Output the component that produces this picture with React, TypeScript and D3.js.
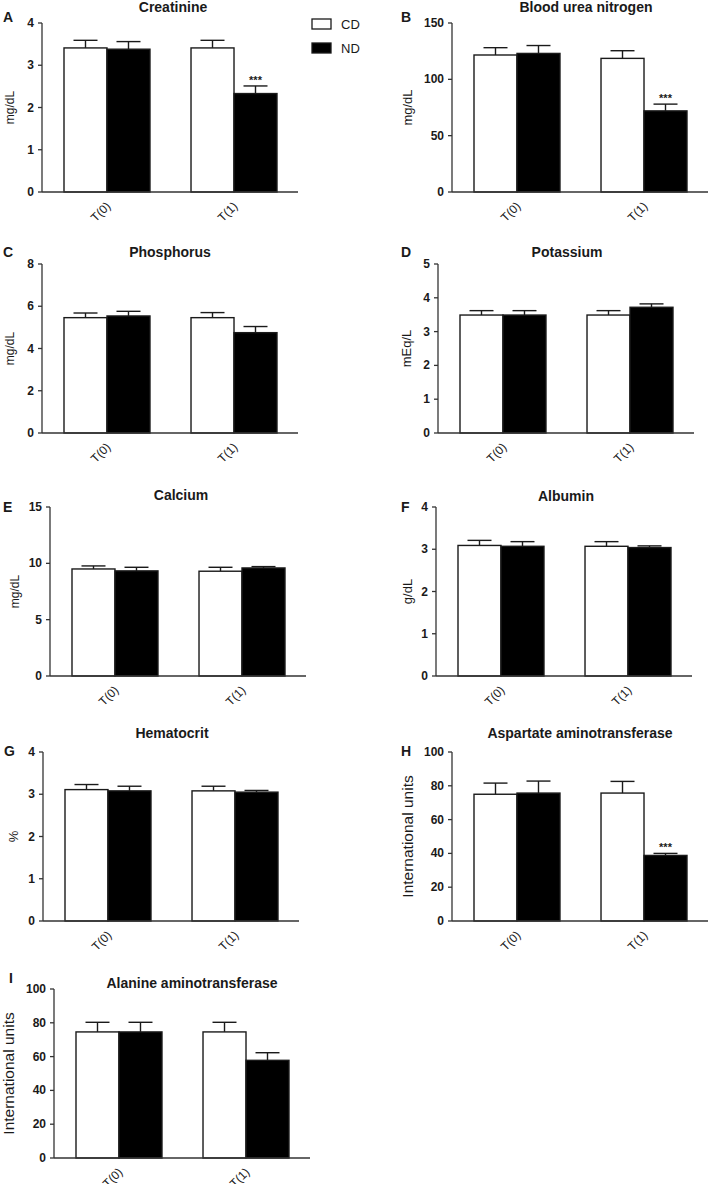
import React from "react";
import * as d3 from "d3";

// ---------- data ----------
const groups = ["T(0)", "T(1)"];
const seriesNames = ["CD", "ND"];
const letters = ["A", "B", "C", "D", "E", "F", "G", "H", "I"];
const titles = [
  "Creatinine",
  "Blood urea nitrogen",
  "Phosphorus",
  "Potassium",
  "Calcium",
  "Albumin",
  "Hematocrit",
  "Aspartate aminotransferase",
  "Alanine aminotransferase",
];
const yLabels = ["mg/dL", "mg/dL", "mg/dL", "mEq/L", "mg/dL", "g/dL", "%", "International units", "International units"];
const yMax = [4, 150, 8, 5, 15, 4, 4, 100, 100];
const yStep = [1, 50, 2, 1, 5, 1, 1, 20, 20];

const cdMean = [
  [3.41, 3.41],
  [121.6, 118.6],
  [5.46, 5.46],
  [3.49, 3.49],
  [9.5, 9.3],
  [3.09, 3.07],
  [3.11, 3.08],
  [75, 75.7],
  [74.6, 74.6],
];
const cdSem = [
  [0.18, 0.18],
  [6.5, 6.8],
  [0.22, 0.24],
  [0.13, 0.13],
  [0.27, 0.35],
  [0.12, 0.11],
  [0.12, 0.11],
  [6.6, 6.9],
  [5.7, 5.7],
];
const ndMean = [
  [3.38, 2.33],
  [123, 72],
  [5.54, 4.75],
  [3.49, 3.72],
  [9.33, 9.59],
  [3.07, 3.04],
  [3.08, 3.05],
  [75.7, 38.8],
  [74.6, 57.8],
];
const ndSem = [
  [0.18, 0.18],
  [7, 6],
  [0.22, 0.29],
  [0.13, 0.1],
  [0.32, 0.12],
  [0.11, 0.04],
  [0.11, 0.04],
  [7.1, 1.2],
  [5.7, 4.5],
];
const ndSig = [
  ["", "***"],
  ["", "***"],
  ["", ""],
  ["", ""],
  ["", ""],
  ["", ""],
  ["", ""],
  ["", "***"],
  ["", ""],
];

// ---------- layout (positions only) ----------
const axisX = [42, 452, 42, 438, 50, 436, 43, 452, 54];
const topY = [23, 23, 264, 264, 507, 507, 752, 752, 989];
const titleX = [173, 586, 170, 567, 181, 566, 172, 580, 192];
const titleY = [12, 12, 257, 257, 500, 501, 738, 738, 988];
const letterX = [3, 401, 3, 401, 3, 401, 4, 401, 9];
const letterY = [22, 22, 257, 257, 512, 512, 756, 756, 983];
const ylabX = [10, 407, 10, 406, 15, 407, 13, 407, 8];
const ylabSize = [12, 13, 12, 13, 12, 13, 13, 15.5, 15.5];

const PLOT_H = 169;
const PLOT_W = 256;
const FONT = "'Liberation Sans', Arial, Helvetica, sans-serif";
const INK = "#1a1a1a";

function Panel({ i }: { i: number }) {
  const x0 = axisX[i];
  const y0 = topY[i];
  const zero = y0 + PLOT_H;
  const y = d3.scaleLinear().domain([0, yMax[i]]).range([zero, y0]);
  const gx = d3
    .scaleBand<string>()
    .domain(groups)
    .range([x0 + 22, x0 + 235])
    .paddingInner(0.323)
    .paddingOuter(0);
  const sx = d3.scaleBand<string>().domain(seriesNames).range([0, gx.bandwidth()]);
  const ticks = d3.range(0, yMax[i] + yStep[i] / 2, yStep[i]);
  const bw = sx.bandwidth();
  const cap = 12;

  const bars: React.ReactNode[] = [];
  groups.forEach((g, gi) => {
    seriesNames.forEach((s, si) => {
      const m = si === 0 ? cdMean[i][gi] : ndMean[i][gi];
      const e = si === 0 ? cdSem[i][gi] : ndSem[i][gi];
      const bx = (gx(g) as number) + (sx(s) as number);
      const cx = bx + bw / 2;
      const yt = y(m);
      const ye = y(m + e);
      bars.push(
        <g key={g + s}>
          <line x1={cx} x2={cx} y1={yt} y2={ye} stroke={INK} strokeWidth={1.4} />
          <line x1={cx - cap} x2={cx + cap} y1={ye} y2={ye} stroke={INK} strokeWidth={1.4} />
          <rect
            x={bx}
            y={yt}
            width={bw}
            height={zero - yt}
            fill={si === 0 ? "#ffffff" : "#000000"}
            stroke={INK}
            strokeWidth={1.4}
          />
          {si === 1 && ndSig[i][gi] ? (
            <text x={cx} y={ye - 2} textAnchor="middle" fontSize={11} fontWeight="bold" fontFamily={FONT} fill={INK}>
              {ndSig[i][gi]}
            </text>
          ) : null}
        </g>
      );
    });
  });

  return (
    <g>
      <text x={titleX[i]} y={titleY[i]} textAnchor="middle" fontSize={14} fontWeight="bold" fontFamily={FONT} fill={INK}>
        {titles[i]}
      </text>
      <text x={letterX[i]} y={letterY[i]} fontSize={14} fontWeight="bold" fontFamily={FONT} fill={INK}>
        {letters[i]}
      </text>
      <text
        transform={`translate(${ylabX[i]},${y0 + PLOT_H / 2}) rotate(-90)`}
        textAnchor="middle"
        dominantBaseline="central"
        fontSize={ylabSize[i]}
        fontFamily={FONT}
        fill={INK}
      >
        {yLabels[i]}
      </text>
      {bars}
      {/* y axis */}
      <line x1={x0} x2={x0} y1={y0} y2={zero} stroke="#333" strokeWidth={1.3} />
      {ticks.map((t) => (
        <g key={t}>
          <line x1={x0 - 4} x2={x0} y1={y(t)} y2={y(t)} stroke="#333" strokeWidth={1.3} />
          <text
            x={x0 - 8}
            y={y(t)}
            textAnchor="end"
            dominantBaseline="central"
            fontSize={12}
            fontWeight="bold"
            fontFamily={FONT}
            fill={INK}
          >
            {t}
          </text>
        </g>
      ))}
      {/* x axis */}
      <line x1={x0} x2={x0 + PLOT_W} y1={zero} y2={zero} stroke="#333" strokeWidth={1.3} />
      {groups.map((g) => {
        const cx = (gx(g) as number) + gx.bandwidth() / 2;
        return (
          <text
            key={g}
            transform={`translate(${cx + 1.5},${zero + 12}) rotate(-45)`}
            textAnchor="end"
            dominantBaseline="central"
            fontSize={12}
            fontFamily={FONT}
            fill={INK}
          >
            {g}
          </text>
        );
      })}
    </g>
  );
}

export default function App() {
  return (
    <svg
      width={709}
      height={1184}
      viewBox="0 0 709 1184"
      style={{ position: "absolute", left: 0, top: 0, background: "#fff" }}
    >
      <rect x={0} y={0} width={709} height={1184} fill="#fff" />
      {titles.map((_, i) => (
        <Panel key={i} i={i} />
      ))}
      {/* legend */}
      {seriesNames.map((s, si) => (
        <g key={s}>
          <rect
            x={312}
            y={19 + si * 24}
            width={19}
            height={10}
            fill={si === 0 ? "#fff" : "#000"}
            stroke={INK}
            strokeWidth={1.3}
          />
          <text x={341} y={29 + si * 24} fontSize={13} fontFamily={FONT} fill={INK}>
            {s}
          </text>
        </g>
      ))}
    </svg>
  );
}
